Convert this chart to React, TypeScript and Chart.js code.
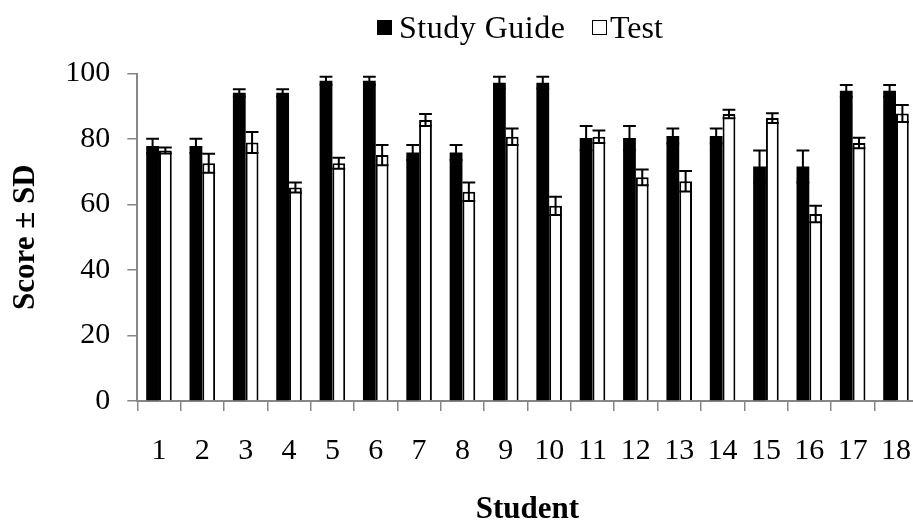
import React, { useEffect, useRef } from "react";
import { Chart, registerables } from "chart.js";

Chart.register(...registerables);

const students = ["1","2","3","4","5","6","7","8","9","10","11","12","13","14","15","16","17","18"];
const studyGuide = [77.9, 77.9, 94.1, 94.1, 97.8, 97.8, 75.9, 75.9, 97.2, 97.2, 80.3, 80.3, 80.9, 80.9, 71.6, 71.6, 94.7, 94.7];
const studyGuideSD = [2.2, 2.2, 1.1, 1.1, 1.2, 1.2, 2.3, 2.3, 1.8, 1.8, 3.7, 3.7, 2.3, 2.3, 4.9, 4.9, 1.8, 1.8];
const testScores = [76.5, 72.6, 78.9, 65.2, 72.6, 75.1, 85.8, 63.9, 80.7, 59.6, 80.7, 68.3, 67.1, 87.6, 86.4, 57.1, 78.8, 87.8];
const testSD = [0.9, 2.9, 3.2, 1.5, 1.7, 3.1, 1.8, 2.8, 2.5, 2.8, 1.9, 2.4, 3.1, 1.3, 1.5, 2.5, 1.6, 2.6];
const yTicks = [0, 20, 40, 60, 80, 100];

const SERIF = "'Liberation Serif', 'Times New Roman', serif";
const AXIS_GREY = "#878787";

const errorBarPlugin = {
  id: "errorBars",
  afterDatasetsDraw(chart: any) {
    const ctx = chart.ctx;
    const yScale = chart.scales.y;
    const sds = [studyGuideSD, testSD];
    ctx.save();
    ctx.strokeStyle = "#000";
    ctx.lineWidth = 2;
    chart.data.datasets.forEach((ds: any, di: number) => {
      const meta = chart.getDatasetMeta(di);
      meta.data.forEach((el: any, i: number) => {
        const v = ds.data[i];
        const sd = sds[di][i];
        const x = el.x;
        const half = el.width / 2;
        const yt = yScale.getPixelForValue(v + sd);
        const yb = yScale.getPixelForValue(v - sd);
        ctx.beginPath();
        ctx.moveTo(x, yt);
        ctx.lineTo(x, yb);
        ctx.moveTo(x - half, yt);
        ctx.lineTo(x + half, yt);
        ctx.moveTo(x - half, yb);
        ctx.lineTo(x + half, yb);
        ctx.stroke();
      });
    });
    ctx.restore();
  },
};

export default function App() {
  const ref = useRef<HTMLCanvasElement | null>(null);

  useEffect(() => {
    if (!ref.current) return;
    const chart = new Chart(ref.current, {
      type: "bar",
      data: {
        labels: students,
        datasets: [
          {
            label: "Study Guide",
            data: studyGuide,
            backgroundColor: "#000000",
            borderColor: "#000000",
            borderWidth: 0,
            categoryPercentage: 0.59,
            barPercentage: 1.0,
          },
          {
            label: "Test",
            data: testScores,
            backgroundColor: "#ffffff",
            borderColor: "#000000",
            borderWidth: 2,
            categoryPercentage: 0.59,
            barPercentage: 1.0,
          },
        ],
      },
      options: {
        responsive: false,
        animation: false,
        devicePixelRatio: 1,
        layout: { padding: { top: 73.5, right: 0, bottom: 0, left: 0 } },
        plugins: {
          legend: { display: false },
          tooltip: { enabled: false },
        },
        scales: {
          x: {
            grid: {
              display: true,
              drawOnChartArea: false,
              drawTicks: true,
              tickLength: 10,
              color: AXIS_GREY,
              lineWidth: 1.5,
              offset: true,
            },
            border: { display: true, color: AXIS_GREY, width: 2 },
            ticks: {
              color: "#000",
              font: { family: SERIF, size: 30 },
              padding: 22,
              maxRotation: 0,
              autoSkip: false,
            },
            title: {
              display: true,
              text: "Student",
              color: "#000",
              font: { family: SERIF, size: 31, weight: "bold", lineHeight: 1 },
              padding: { top: 0, bottom: -4 },
            },
            afterFit(scale: any) {
              scale.height = 120;
            },
          },
          y: {
            min: 0,
            max: 100,
            afterBuildTicks(scale: any) {
              scale.ticks = yTicks.map((v) => ({ value: v }));
            },
            grid: {
              display: true,
              drawOnChartArea: false,
              drawTicks: true,
              tickLength: 10,
              color: AXIS_GREY,
              lineWidth: 1.5,
            },
            border: { display: true, color: AXIS_GREY, width: 2 },
            ticks: {
              color: "#000",
              font: { family: SERIF, size: 30 },
              padding: 17,
            },
            title: {
              display: true,
              text: "Score ± SD",
              color: "#000",
              font: { family: SERIF, size: 31, weight: "bold", lineHeight: 1 },
              padding: { top: 10, bottom: 0 },
            },
            afterFit(scale: any) {
              scale.width = 137.3;
            },
          },
        },
      },
      plugins: [errorBarPlugin],
    } as any);
    return () => chart.destroy();
  }, []);

  const legendText: React.CSSProperties = {
    position: "absolute",
    fontFamily: SERIF,
    fontSize: 32,
    lineHeight: "32px",
    color: "#000",
    whiteSpace: "nowrap",
    top: 11,
  };

  return (
    <div
      style={{
        position: "absolute",
        left: 0,
        top: 0,
        width: 913,
        height: 521,
        overflow: "hidden",
        background: "#fff",
      }}
    >
      <canvas ref={ref} width={933} height={521} style={{ position: "absolute", left: 0, top: 0, width: 933, height: 521 }} />
      <div style={{ position: "absolute", left: 377, top: 19.5, width: 15, height: 15, background: "#000" }} />
      <span style={{ ...legendText, left: 399, letterSpacing: 0.5 }}>Study Guide</span>
      <div style={{ position: "absolute", left: 592, top: 19.5, width: 15, height: 15, boxSizing: "border-box", border: "1.5px solid #000", background: "#fff" }} />
      <span style={{ ...legendText, left: 610 }}>Test</span>
    </div>
  );
}
